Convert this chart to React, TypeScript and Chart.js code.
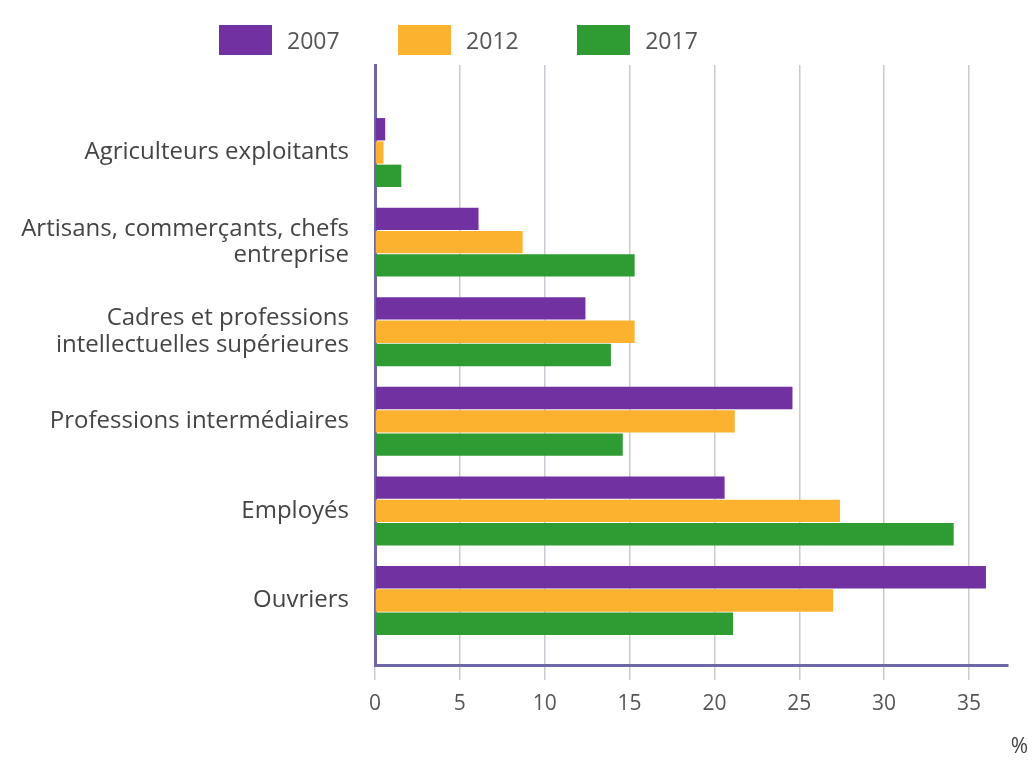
import React, { useEffect, useRef } from "react";
import { Chart, registerables } from "chart.js";

Chart.register(...registerables);

const categories: string[][] = [
  ["Agriculteurs exploitants"],
  ["Artisans, commerçants, chefs", "entreprise"],
  ["Cadres et professions", "intellectuelles supérieures"],
  ["Professions intermédiaires"],
  ["Employés"],
  ["Ouvriers"],
];
const seriesNames = ["2007", "2012", "2017"];
const seriesColors = ["#7131a1", "#fdb22f", "#2f9b33"];
const values2007 = [0.6, 6.1, 12.4, 24.6, 20.6, 36.0];
const values2012 = [0.5, 8.7, 15.3, 21.2, 27.4, 27.0];
const values2017 = [1.55, 15.3, 13.9, 14.6, 34.1, 21.1];
const xTickStep = 5;
const xMax = 37.3;
const unitLabel = "%";

const FONT = "'Open Sans', 'Noto Sans', sans-serif";

export default function App() {
  const ref = useRef<HTMLCanvasElement | null>(null);

  useEffect(() => {
    if (!ref.current) return;
    const allValues = [values2007, values2012, values2017];
    const chart = new Chart(ref.current, {
      type: "bar",
      data: {
        labels: categories.map((c) => c.join(" ")),
        datasets: allValues.map((vals, s) => ({
          label: seriesNames[s],
          data: vals.map((v, i) => ({ x: v, y: i })),
          backgroundColor: seriesColors[s],
          borderWidth: 0,
          categoryPercentage: 0.78,
          barPercentage: 0.96,
        })),
      },
      options: {
        indexAxis: "y",
        responsive: false,
        animation: false,
        layout: { padding: { top: 65, right: 26, bottom: 0, left: 0 } },
        plugins: {
          legend: { display: false },
          tooltip: { enabled: false },
        },
        scales: {
          x: {
            type: "linear",
            min: 0,
            max: xMax,
            z: 1,
            afterFit: (scale: any) => {
              scale.height = 95;
            },
            ticks: {
              stepSize: xTickStep,
              includeBounds: false,
              padding: 11,
              color: "#555",
              font: { family: FONT, size: 21 },
            },
            grid: {
              color: "rgba(60,60,90,0.27)",
              lineWidth: 1.5,
              drawTicks: true,
              tickLength: 15,
            },
            border: { display: true, color: "#6e68a8", width: 3 },
          },
          y: {
            type: "linear",
            reverse: true,
            offset: false,
            min: -0.977,
            max: categories.length - 1 + 0.72,
            z: 1,
            afterFit: (scale: any) => {
              scale.width = 375;
            },
            ticks: {
              stepSize: 1,
              includeBounds: false,
              autoSkip: false,
              padding: 26,
              color: "#444",
              font: { family: FONT, size: 24, lineHeight: 1.1 },
              callback: (v: any) =>
                Number.isInteger(v) && categories[v] ? categories[v] : "",
            },
            grid: { display: false, drawTicks: false, offset: false },
            border: { display: true, color: "#6e68a8", width: 3 },
          },
        },
      },
    });
    return () => chart.destroy();
  }, []);

  return (
    <div
      style={{
        position: "absolute",
        left: 0,
        top: 0,
        width: 1034,
        height: 760,
        background: "#fff",
        fontFamily: FONT,
      }}
    >
      <canvas ref={ref} width={1034} height={760} />
      <div
        style={{
          position: "absolute",
          left: 219,
          top: 25,
          display: "flex",
          alignItems: "center",
          gap: 58.5,
        }}
      >
        {seriesNames.map((n, i) => (
          <div key={n} style={{ display: "flex", alignItems: "center" }}>
            <div
              style={{
                width: 53,
                height: 30,
                background: seriesColors[i],
                marginRight: 15,
              }}
            />
            <span style={{ fontSize: 23, color: "#555", lineHeight: "30px" }}>
              {n}
            </span>
          </div>
        ))}
      </div>
      <div
        style={{
          position: "absolute",
          right: 6,
          top: 733,
          fontSize: 21,
          color: "#444",
          lineHeight: "24px",
        }}
      >
        {unitLabel}
      </div>
    </div>
  );
}
